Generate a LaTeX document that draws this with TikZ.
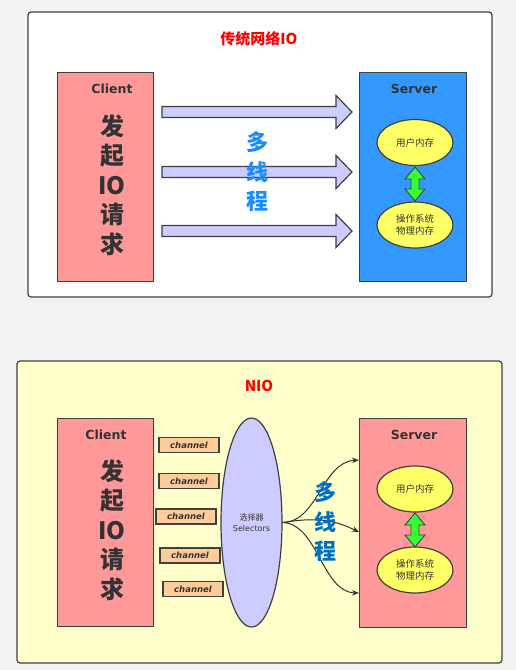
\documentclass[tikz,border=0pt]{standalone}
\usepackage{fontspec}
\setmainfont{DejaVu Sans}
\newfontfamily\cjk{Noto Sans CJK SC}
\usetikzlibrary{shapes.geometric,arrows.meta}
\definecolor{pagebg}{HTML}{F2F2F2}
\definecolor{edge}{HTML}{404040}
\definecolor{pinkbox}{HTML}{FF9999}
\definecolor{bluebox}{HTML}{3399FF}
\definecolor{yellowell}{HTML}{FFFF66}
\definecolor{nioyellow}{HTML}{FFFFCC}
\definecolor{chanfill}{HTML}{FFCC99}
\definecolor{selfill}{HTML}{CCCCFF}
\definecolor{blockfill}{HTML}{CCCCFF}
\definecolor{greenarr}{HTML}{33FF33}
\definecolor{txtgray}{HTML}{333333}
\definecolor{blueA}{HTML}{1A8CFF}
\definecolor{blueB}{HTML}{0070C0}
\tikzset{
  panel/.style={draw=edge, line width=1.2pt, rounded corners=3pt},
  hostbox/.style={draw=edge, line width=1.3pt, anchor=north west, inner sep=0pt},
  hostlabel/.style={font=\bfseries\fontsize{12.5}{14}\selectfont, text=txtgray},
  bigchars/.style={font=\cjk\bfseries\fontsize{24}{29.5}\selectfont, text=txtgray, align=center, inner sep=0pt},
  threadtxt/.style={font=\cjk\bfseries\fontsize{22}{29.5}\selectfont, align=center, inner sep=0pt},
  memell/.style={ellipse, draw=edge, line width=1.2pt, fill=yellowell, minimum width=76pt, minimum height=46pt, inner sep=0pt, align=center, font=\cjk\fontsize{9.5}{12.5}\selectfont, text=txtgray},
  chanbox/.style={draw=edge, line width=1.2pt, fill=chanfill, minimum width=60pt, minimum height=15pt, inner sep=0pt, font=\bfseries\itshape\fontsize{8.5}{10}\selectfont, text=txtgray},
  blockarrow/.style={draw=edge, line width=1.2pt, fill=blockfill, line join=miter},
  dblarrow/.style={draw=edge, line width=0.9pt, fill=greenarr},
  curvearrow/.style={draw=txtgray, line width=1pt, -{Stealth[length=7pt,width=5.5pt]}},
  titletxt/.style={font=\cjk\bfseries\fontsize{15}{17}\selectfont, text=red}
}
\begin{document}
\begin{tikzpicture}[x=1pt,y=-1pt]
\fill[pagebg] (0,0) rectangle (516,670);
\useasboundingbox (0,0) rectangle (516,670);

% ---------- top panel ----------
\draw[panel, fill=white] (28,12) rectangle (492,297);
\node[titletxt] (t1) at (259,39) {传统网络IO};

\node[hostbox, fill=pinkbox, minimum width=96pt, minimum height=209pt] (c1) at (57,72) {};
\node[hostlabel] (c1l) at (112,89) {Client};
\node[bigchars] (c1t) at (112,185) {发\\起\\IO\\请\\求};

\node[hostbox, fill=bluebox, minimum width=107pt, minimum height=209pt] (s1) at (359,72) {};
\node[hostlabel] (s1l) at (414,89) {Server};
\node[memell] (u1) at (415,142.5) {用户内存};
\node[memell] (k1) at (415,225) {操作系统\\物理内存};

% green double arrow
\draw[dblarrow] (415,167) -- (425,179) -- (419,179) -- (419,189) -- (425,189) -- (415,201)
  -- (405,189) -- (411,189) -- (411,179) -- (405,179) -- cycle;

% block arrows
\foreach \yy/\nm in {112/a1,172/a2,231/a3}{
  \draw[blockarrow] (162,\yy-5.5) -- (336,\yy-5.5) -- (336,\yy-16.5) -- (352,\yy)
     -- (336,\yy+16.5) -- (336,\yy+5.5) -- (162,\yy+5.5) -- cycle;
}
\node[threadtxt, text=blueA] (m1) at (257,172) {多\\线\\程};

% ---------- bottom panel ----------
\draw[panel, fill=nioyellow] (17,361) rectangle (502,663);
\node[titletxt] (t2) at (259,386) {NIO};

\node[hostbox, fill=pinkbox, minimum width=96pt, minimum height=208pt] (c2) at (57,418) {};
\node[hostlabel] (c2l) at (106,435) {Client};
\node[bigchars] (c2t) at (112,530) {发\\起\\IO\\请\\求};

\node[chanbox] (ch1) at (189,445) {channel};
\node[chanbox] (ch2) at (189,481) {channel};
\node[chanbox] (ch3) at (186,516.5) {channel};
\node[chanbox] (ch4) at (190,555.5) {channel};
\node[chanbox] (ch5) at (193,589) {channel};

\node[ellipse, draw=edge, line width=1.2pt, fill=selfill, minimum width=61pt, minimum height=209pt, inner sep=0pt, align=center, font=\fontsize{8}{10.5}\selectfont, text=txtgray] (sel) at (251.5,522.5) {{\cjk 选择器}\\Selectors};

\node[hostbox, fill=pinkbox, minimum width=107pt, minimum height=209pt] (s2) at (359,418) {};
\node[hostlabel] (s2l) at (414,435) {Server};
\node[memell] (u2) at (415,489) {用户内存};
\node[memell] (k2) at (415,570) {操作系统\\物理内存};

\draw[dblarrow] (415,513) -- (425,525) -- (419,525) -- (419,535) -- (425,535) -- (415,547)
  -- (405,535) -- (411,535) -- (411,525) -- (405,525) -- cycle;

\coordinate (e1) at (359,460);
\coordinate (e2) at (359,532);
\coordinate (e3) at (359,593);
\draw[curvearrow] (sel.east) .. controls (318,522) and (322,462) .. (e1);
\draw[curvearrow] (sel.east) .. controls (322,516) and (338,522) .. (e2);
\draw[curvearrow] (sel.east) .. controls (318,524) and (322,592) .. (e3);

\node[threadtxt, text=blueB] (m2) at (325,522) {多\\线\\程};
\end{tikzpicture}
\end{document}
